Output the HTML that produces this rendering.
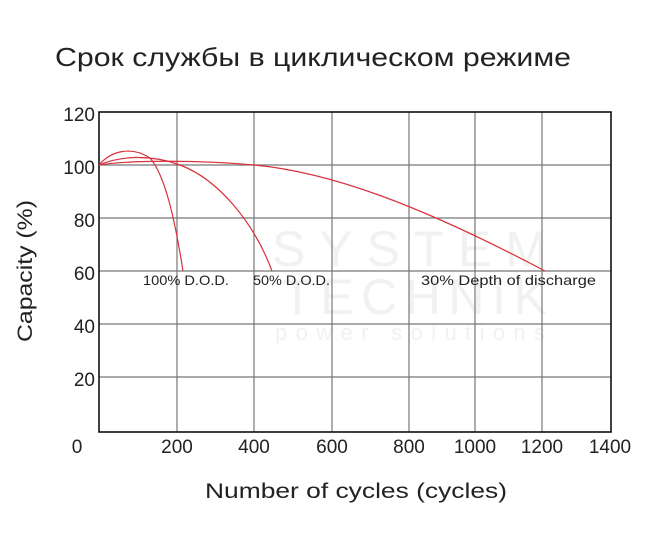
<!DOCTYPE html>
<html><head><meta charset="utf-8"><style>
body{margin:0;background:#fff;width:652px;height:552px;overflow:hidden}
svg text{font-family:"Liberation Sans","DejaVu Sans",sans-serif;fill:#222}
svg text.wm{fill:#f1f1f1}
</style></head><body>
<svg width="652" height="552" viewBox="0 0 652 552" xmlns="http://www.w3.org/2000/svg">
<text x="55" y="66" font-size="26" textLength="516" lengthAdjust="spacingAndGlyphs">Срок службы в циклическом режиме</text>
<text class="wm" x="272" y="266" font-size="50" textLength="275" lengthAdjust="spacing">SYSTEM</text>
<text class="wm" x="282" y="314" font-size="50" textLength="265" lengthAdjust="spacing">TECHNIK</text>
<text class="wm" x="275" y="340" font-size="22" textLength="270" lengthAdjust="spacing">power solutions</text>
<g stroke="#777" stroke-width="1.2">
<line x1="177" y1="112" x2="177" y2="432"/><line x1="254" y1="112" x2="254" y2="432"/>
<line x1="332" y1="112" x2="332" y2="432"/><line x1="409" y1="112" x2="409" y2="432"/>
<line x1="475" y1="112" x2="475" y2="432"/><line x1="542" y1="112" x2="542" y2="432"/>
<line x1="99" y1="165" x2="611" y2="165"/><line x1="99" y1="218" x2="611" y2="218"/>
<line x1="99" y1="271" x2="611" y2="271"/><line x1="99" y1="324" x2="611" y2="324"/>
<line x1="99" y1="377" x2="611" y2="377"/>
</g>
<rect x="99" y="112" width="512" height="320" fill="none" stroke="#111" stroke-width="1.6"/>
<g fill="none" stroke="#d9303a" stroke-width="1.2">
<path d="M99,165 C110,152 130,145 150,158 C165,175 175,220 183,271"/>
<path d="M99,165 C120,156 150,154 180,165 C220,180 255,225 272,271"/>
<path d="M99,165 C130,160 200,160 254,165 C330,172 420,205 545,271"/>
</g>
<g font-size="19" text-anchor="end">
<text x="95" y="121">120</text><text x="95" y="174">100</text><text x="95" y="227">80</text>
<text x="95" y="280">60</text><text x="95" y="333">40</text><text x="95" y="386">20</text>
</g>
<g font-size="19" text-anchor="middle">
<text x="77" y="453">0</text><text x="177" y="453">200</text><text x="254" y="453">400</text>
<text x="332" y="453">600</text><text x="409" y="453">800</text><text x="475" y="453">1000</text>
<text x="542" y="453">1200</text><text x="610" y="453">1400</text>
</g>
<g font-size="14">
<text x="143" y="285" textLength="86" lengthAdjust="spacingAndGlyphs">100% D.O.D.</text>
<text x="253" y="285" textLength="77" lengthAdjust="spacingAndGlyphs">50% D.O.D.</text>
<text x="421" y="285" textLength="175" lengthAdjust="spacingAndGlyphs">30% Depth of discharge</text>
</g>
<text x="205" y="498" font-size="21" textLength="302" lengthAdjust="spacingAndGlyphs">Number of cycles (cycles)</text>
<text transform="translate(32,342) rotate(-90)" font-size="21" textLength="142" lengthAdjust="spacingAndGlyphs">Capacity (%)</text>
</svg>
</body></html>
